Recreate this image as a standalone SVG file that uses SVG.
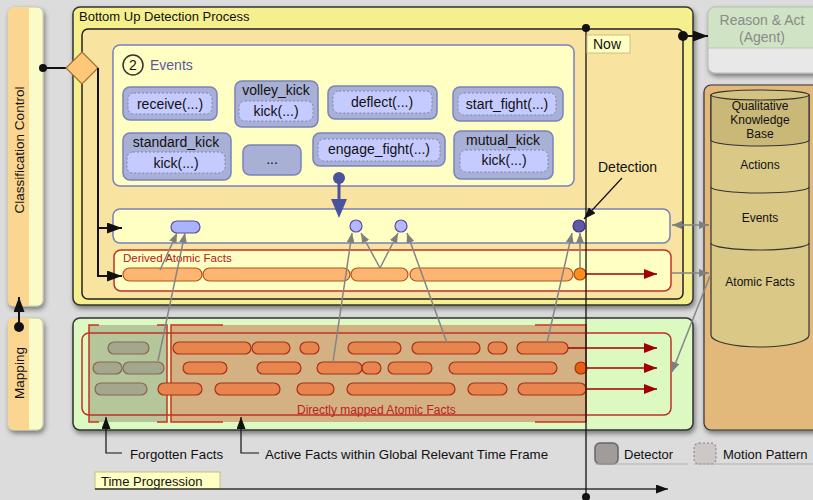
<svg xmlns="http://www.w3.org/2000/svg" width="813" height="500" viewBox="0 0 813 500">
<defs>
<filter id="sh" x="-10%" y="-10%" width="130%" height="130%"><feDropShadow dx="1.5" dy="3" stdDeviation="2.5" flood-color="#000" flood-opacity="0.45"/></filter>
<marker id="mb" markerUnits="userSpaceOnUse" markerWidth="15" markerHeight="11" refX="15" refY="5.5" orient="auto" viewBox="0 0 15 11"><path d="M0,0 L15,5.5 L0,11 z" fill="#111"/></marker>
<marker id="mbs" markerUnits="userSpaceOnUse" markerWidth="12" markerHeight="9" refX="12" refY="4.5" orient="auto" viewBox="0 0 12 9"><path d="M0,0 L12,4.5 L0,9 z" fill="#111"/></marker>
<marker id="mg" markerUnits="userSpaceOnUse" markerWidth="10" markerHeight="8" refX="10" refY="4" orient="auto-start-reverse" viewBox="0 0 10 8"><path d="M0,0 L10,4 L0,8 z" fill="#7f7f7f"/></marker>
<marker id="mr" markerUnits="userSpaceOnUse" markerWidth="13" markerHeight="10" refX="13" refY="5" orient="auto" viewBox="0 0 13 10"><path d="M0,0 L13,5 L0,10 z" fill="#a00000"/></marker>
<style>
text{font-family:"Liberation Sans",Arial,sans-serif;fill:#111}
.ev{fill:#a9b0d6;stroke:#7b82bb;stroke-width:1.5}
.evi{fill:#c6cbff;stroke:#7b82bb;stroke-width:1;stroke-dasharray:2 2}
.et{font-size:14px;text-anchor:middle}
.of{fill:#fdb672;stroke:#b8501e;stroke-width:1.2}
.mf{fill:#e8854f;stroke:#a8301a;stroke-width:1.2}
.ff{fill:#a3a78c;stroke:#8a6656;stroke-width:1.2}
.ga{stroke:#858585;stroke-width:1.5;fill:none;marker-end:url(#mg)}
.ra{stroke:#a00000;stroke-width:1.5;fill:none;marker-end:url(#mr)}
.br{stroke:#d03020;stroke-width:1.5;fill:none}
.kb{font-size:12px;text-anchor:middle}
</style>
</defs>
<rect width="813" height="500" fill="#dcdcdc"/>

<g id="classification-control" filter="url(#sh)">
<rect x="8" y="7" width="35" height="299" rx="6" fill="#fbfbc8" stroke="#c8c8a8"/>
<path d="M14,7 H29 V306 H14 A6,6 0 0 1 8,300 V13 A6,6 0 0 1 14,7 z" fill="#fbd690"/>
</g>
<text x="24" y="150" font-size="13.5" text-anchor="middle" transform="rotate(-90 24 150)">Classification Control</text>

<g id="mapping" filter="url(#sh)">
<rect x="8" y="318" width="35" height="112" rx="6" fill="#fbfbc8" stroke="#c8c8a8"/>
<path d="M14,318 H29 V430 H14 A6,6 0 0 1 8,424 V324 A6,6 0 0 1 14,318 z" fill="#fbd690"/>
</g>
<text x="24" y="373" font-size="13.5" text-anchor="middle" transform="rotate(-90 24 373)">Mapping</text>

<g id="bottom-up-detection-process">
<rect x="73" y="7" width="620" height="298" rx="7" fill="#f6ef8e" stroke="#333" stroke-width="1.5" filter="url(#sh)"/>
<text x="79" y="21" font-size="13" fill="#333">Bottom Up Detection Process</text>
<rect x="82" y="29" width="601" height="270" rx="6" fill="#f8e3a0" stroke="#222" stroke-width="1.5"/>
</g>

<g id="events">
<rect x="113" y="45" width="461" height="141" rx="7" fill="#ffffc4" stroke="#7a7fc0" stroke-width="1.5"/>
<circle cx="133" cy="65" r="10" fill="none" stroke="#333" stroke-width="1.5"/>
<text x="133" y="70" font-size="14" text-anchor="middle">2</text>
<text x="150" y="70" font-size="14" style="fill:#5a5a9a">Events</text>
</g>

<g id="receive">
<rect class="ev" x="123" y="87" width="94" height="33" rx="7"/>
<rect class="evi" x="128" y="93" width="84" height="21" rx="6"/>
<text class="et" x="170" y="109">receive(...)</text>
</g>
<g id="volley_kick">
<rect class="ev" x="235" y="81" width="83" height="46" rx="7"/>
<text class="et" x="276" y="95">volley_kick</text>
<rect class="evi" x="239" y="101" width="74" height="20" rx="6"/>
<text class="et" x="276" y="116">kick(...)</text>
</g>
<g id="deflect">
<rect class="ev" x="328" y="86" width="109" height="33" rx="7"/>
<rect class="evi" x="333" y="91" width="99" height="22" rx="6"/>
<text class="et" x="382" y="107">deflect(...)</text>
</g>
<g id="start_fight">
<rect class="ev" x="453" y="87" width="110" height="34" rx="7"/>
<rect class="evi" x="458" y="93" width="98" height="22" rx="6"/>
<text class="et" x="507" y="109">start_fight(...)</text>
</g>
<g id="standard_kick">
<rect class="ev" x="123" y="133" width="108" height="47" rx="7"/>
<text class="et" x="176" y="147">standard_kick</text>
<rect class="evi" x="127" y="152" width="98" height="21" rx="6"/>
<text class="et" x="176" y="168">kick(...)</text>
</g>
<g id="more">
<rect class="ev" x="243" y="145" width="58" height="30" rx="7"/>
<text class="et" x="272" y="164">...</text>
</g>
<g id="engage_fight">
<rect class="ev" x="313" y="133" width="132" height="33" rx="7"/>
<rect class="evi" x="318" y="139" width="122" height="22" rx="6"/>
<text class="et" x="379" y="154">engage_fight(...)</text>
</g>
<g id="mutual_kick">
<rect class="ev" x="454" y="131" width="99" height="48" rx="7"/>
<text class="et" x="503" y="145">mutual_kick</text>
<rect class="evi" x="460" y="150" width="88" height="22" rx="6"/>
<text class="et" x="504" y="165">kick(...)</text>
</g>

<g id="detection-row">
<rect x="113" y="209" width="557" height="34" rx="7" fill="#ffffc4" stroke="#7a80b8" stroke-width="1.5"/>
<rect x="171" y="221" width="29" height="12" rx="6" fill="#aab3ff" stroke="#5a4aa8" stroke-width="1.2"/>
<circle cx="356" cy="226" r="6" fill="#b3b8ff" stroke="#5a4aa8" stroke-width="1.2"/>
<circle cx="401" cy="226" r="6" fill="#b3b8ff" stroke="#5a4aa8" stroke-width="1.2"/>
<circle cx="579" cy="226" r="6" fill="#5f5aa5" stroke="#3e3490" stroke-width="1.2"/>
</g>

<g id="derived-atomic-facts">
<rect x="114" y="250" width="557" height="41" rx="7" fill="#ffffc4" stroke="#c03028" stroke-width="1.5"/>
<text x="123" y="262" font-size="11.5" style="fill:#b02020">Derived Atomic Facts</text>
<rect class="of" x="123" y="268" width="79" height="13" rx="6.5"/>
<rect class="of" x="203" y="268" width="147" height="13" rx="6.5"/>
<rect class="of" x="351" y="268" width="57" height="13" rx="6.5"/>
<rect class="of" x="410" y="268" width="163" height="13" rx="6.5"/>
<circle cx="580" cy="274" r="6" fill="#fb8f1e" stroke="#b04a10" stroke-width="1.2"/>
</g>

<g id="reason-act">
<rect x="708" y="7" width="120" height="66" rx="7" fill="#e8e8e8" stroke="#b8b8b8" filter="url(#sh)"/>
<path d="M715,7 H828 V48 H708 V14 A7,7 0 0 1 715,7 z" fill="#d0e3c4" stroke="#b8c8b0"/>
<text x="762" y="25" font-size="14" text-anchor="middle" style="fill:#8a8a8a">Reason &amp; Act</text>
<text x="762" y="42" font-size="14" text-anchor="middle" style="fill:#8a8a8a">(Agent)</text>
</g>

<g id="knowledge-base">
<rect x="704" y="85" width="125" height="345" rx="7" fill="#e2b97a" stroke="#333" stroke-width="1.2" filter="url(#sh)"/>
<path d="M711,95 V335 A49,12 0 0 0 809,335 V95 z" fill="#d9c886" stroke="#333" stroke-width="1.2"/>
<path d="M711,95 V140 A49,6 0 0 0 809,140 V95 z" fill="#c9b877" stroke="#333" stroke-width="1.2"/>
<path d="M711,187 A49,6 0 0 0 809,187" fill="none" stroke="#333" stroke-width="1.2"/>
<path d="M711,243 A49,7 0 0 0 809,243" fill="none" stroke="#333" stroke-width="1.2"/>
<ellipse cx="760" cy="95" rx="49" ry="5" fill="#d3c280" stroke="#333" stroke-width="1.2"/>
<text class="kb" x="760" y="110">Qualitative</text>
<text class="kb" x="760" y="124">Knowledge</text>
<text class="kb" x="760" y="138">Base</text>
<text class="kb" x="760" y="169">Actions</text>
<text class="kb" x="760" y="222">Events</text>
<text class="kb" x="760" y="286">Atomic Facts</text>
</g>

<g id="mapped-atomic-facts">
<rect x="73" y="318" width="620" height="112" rx="7" fill="#dbf9c0" stroke="#333" stroke-width="1.5" filter="url(#sh)"/>
<rect x="89" y="325" width="78" height="97" fill="#b5c79a"/>
<rect x="171" y="325" width="415" height="97" fill="#d4b182"/>
<rect x="82" y="333" width="589" height="82" rx="7" fill="none" stroke="#c03028" stroke-width="1.5"/>
<path class="br" d="M99,325 H89 V422 H99 M157,325 H167 V422 H157"/>
<path class="br" d="M223,325 H171 V422 H223 M535,325 H586 V422 H535"/>
<rect class="ff" x="108" y="342" width="41" height="12" rx="6"/>
<rect class="ff" x="93" y="362" width="29" height="12" rx="6"/>
<rect class="ff" x="123" y="362" width="41" height="12" rx="6"/>
<rect class="ff" x="95" y="383" width="52" height="12" rx="6"/>
<rect class="mf" x="173" y="342" width="78" height="12" rx="6"/>
<rect class="mf" x="252" y="342" width="38" height="12" rx="6"/>
<rect class="mf" x="300" y="342" width="19" height="12" rx="6"/>
<rect class="mf" x="348" y="342" width="53" height="12" rx="6"/>
<rect class="mf" x="412" y="342" width="68" height="12" rx="6"/>
<rect class="mf" x="488" y="342" width="19" height="12" rx="6"/>
<rect class="mf" x="517" y="342" width="51" height="12" rx="6"/>
<rect class="mf" x="183" y="362" width="44" height="12" rx="6"/>
<rect class="mf" x="257" y="362" width="44" height="12" rx="6"/>
<rect class="mf" x="317" y="362" width="45" height="12" rx="6"/>
<rect class="mf" x="362" y="362" width="19" height="12" rx="6"/>
<rect class="mf" x="388" y="362" width="44" height="12" rx="6"/>
<rect class="mf" x="449" y="362" width="108" height="12" rx="6"/>
<circle cx="581" cy="368" r="6" fill="#e8600f" stroke="#a8301a" stroke-width="1.2"/>
<rect class="mf" x="158" y="383" width="44" height="12" rx="6"/>
<rect class="mf" x="215" y="383" width="65" height="12" rx="6"/>
<rect class="mf" x="297" y="383" width="37" height="12" rx="6"/>
<rect class="mf" x="347" y="383" width="108" height="12" rx="6"/>
<rect class="mf" x="468" y="383" width="39" height="12" rx="6"/>
<rect class="mf" x="518" y="383" width="68" height="12" rx="6"/>
<text x="297" y="414" font-size="12" style="fill:#c02020">Directly mapped Atomic Facts</text>
</g>

<g id="legend">
<rect x="595" y="443" width="23" height="21" rx="5" fill="#a19b99" stroke="#666" stroke-width="1.5"/>
<line x1="595" y1="464" x2="688" y2="464" stroke="#b0b0b0"/>
<text x="624" y="459" font-size="13">Detector</text>
<rect x="694" y="443" width="22" height="21" rx="5" fill="#cdc7c5" stroke="#888" stroke-width="1.2" stroke-dasharray="2 2"/>
<line x1="694" y1="464" x2="813" y2="464" stroke="#b0b0b0"/>
<text x="723" y="459" font-size="13">Motion Pattern</text>
</g>

<g id="time-progression">
<rect x="95" y="472" width="125" height="17" fill="#ffffc4" stroke="#c8c07a"/>
<text x="101" y="486" font-size="13">Time Progression</text>
</g>

<g id="connectors">
<line x1="43" y1="68" x2="66" y2="68" stroke="#111" stroke-width="2"/>
<circle cx="43" cy="68" r="4" fill="#111"/>
<polygon points="82,52 98,68 82,84 66,68" fill="#fdc877" stroke="#a07030" stroke-width="1.2"/>
<path d="M98,68 V276 H122" fill="none" stroke="#111" stroke-width="2" marker-end="url(#mb)"/>
<path d="M98,228 H122" fill="none" stroke="#111" stroke-width="2" marker-end="url(#mb)"/>
<circle cx="19" cy="327" r="5" fill="#111"/>
<line x1="19" y1="327" x2="19" y2="297" stroke="#111" stroke-width="2" marker-end="url(#mb)"/>
<circle cx="339" cy="178" r="6" fill="#4a52a0"/>
<line x1="339" y1="178" x2="339" y2="201" stroke="#4a52a0" stroke-width="3"/>
<polygon points="331,199 347,199 339,218" fill="#4a52a0"/>
<line class="ga" x1="160" y1="270" x2="177" y2="233"/>
<line class="ga" x1="158" y1="361" x2="185" y2="233"/>
<line class="ga" x1="380" y1="268" x2="361" y2="233"/>
<line class="ga" x1="333" y1="362" x2="352" y2="233"/>
<line class="ga" x1="380" y1="268" x2="398" y2="233"/>
<line class="ga" x1="447" y1="343" x2="407" y2="233"/>
<line class="ga" x1="580" y1="268" x2="580" y2="233"/>
<line class="ga" x1="547" y1="343" x2="572" y2="233"/>
<line class="ga" x1="672" y1="225" x2="709" y2="225" style="marker-start:url(#mg)"/>
<line class="ga" x1="672" y1="273" x2="709" y2="273"/>
<line class="ga" x1="710" y1="276" x2="672" y2="372"/>
<line class="ra" x1="586" y1="274" x2="657" y2="274"/>
<line class="ra" x1="568" y1="348" x2="657" y2="348"/>
<line class="ra" x1="587" y1="368" x2="657" y2="368"/>
<line class="ra" x1="586" y1="389" x2="657" y2="389"/>
<path d="M122,453 H106 V417" fill="none" stroke="#111" stroke-width="1.2" marker-end="url(#mbs)"/>
<path d="M259,453 H241 V417" fill="none" stroke="#111" stroke-width="1.2" marker-end="url(#mbs)"/>
<text x="130" y="459" font-size="13.3">Forgotten Facts</text>
<text x="265" y="459" font-size="13.3">Active Facts within Global Relevant Time Frame</text>
<line x1="95" y1="489" x2="668" y2="489" stroke="#333" stroke-width="1.5" marker-end="url(#mbs)"/>
<line x1="586" y1="28" x2="586" y2="497" stroke="#111" stroke-width="1.3"/>
<circle cx="586" cy="28" r="4" fill="#111"/>
<circle cx="586" cy="497" r="4" fill="#111"/>
<circle cx="683" cy="36" r="5" fill="#111"/>
<line x1="683" y1="36" x2="708" y2="36" stroke="#111" stroke-width="2" marker-end="url(#mb)"/>
<line x1="622" y1="178" x2="584" y2="219" stroke="#111" stroke-width="1.2" marker-end="url(#mbs)"/>
</g>
<g id="now-label">
<rect x="587" y="35" width="43" height="18" fill="#ffffc4" stroke="#c8c07a"/>
<text x="593" y="49" font-size="14">Now</text>
</g>
<text x="598" y="172" font-size="14">Detection</text>
</svg>
